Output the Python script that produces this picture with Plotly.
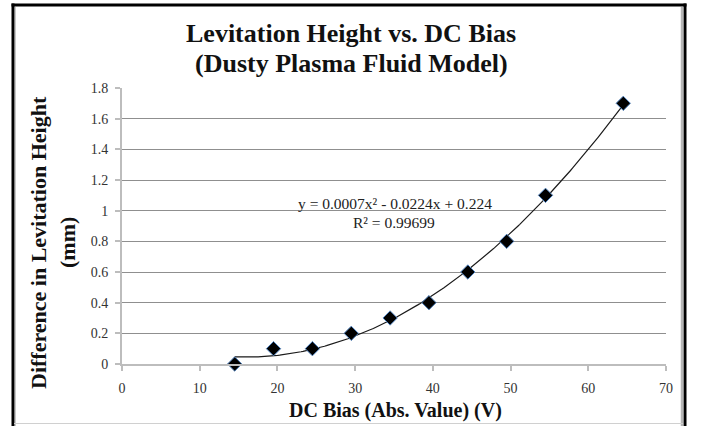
import numpy as np
import plotly.graph_objects as go

dc_bias = [14.5, 19.5, 24.5, 29.5, 34.5, 39.5, 44.5, 49.5, 54.5, 64.5]
height_diff = [0.0, 0.1, 0.1, 0.2, 0.3, 0.4, 0.6, 0.8, 1.1, 1.7]
x_ticks = [0, 10, 20, 30, 40, 50, 60, 70]
y_ticks = [0, 0.2, 0.4, 0.6, 0.8, 1, 1.2, 1.4, 1.6, 1.8]
y_tick_labels = ["0", "0.2", "0.4", "0.6", "0.8", "1", "1.2", "1.4", "1.6", "1.8"]

# Polynomial (order 2) trendline fitted to the data, as in the spreadsheet
coef = np.polyfit(dc_bias, height_diff, 2)
fit_x = np.linspace(min(dc_bias), max(dc_bias), 200)
fit_y = np.polyval(coef, fit_x)

SERIF = "Liberation Serif, Times New Roman, serif"

fig = go.Figure()
fig.add_trace(go.Scatter(x=fit_x, y=fit_y, mode="lines",
                         line=dict(color="#1a1a1a", width=1.2), showlegend=False,
                         hoverinfo="skip"))
fig.add_trace(go.Scatter(x=dc_bias, y=height_diff, mode="markers", cliponaxis=False,
                         marker=dict(symbol="diamond", size=11, color="black",
                                     line=dict(color="#4F81BD", width=1)),
                         showlegend=False))

L, R, T, B = 122, 39, 88, 62
W, H = 705, 426
pw, ph = W - L - R, H - T - B

def px(xp):
    return (xp - L) / pw

def py(yp):
    return (H - B - yp) / ph

fig.update_layout(
    width=W, height=H,
    margin=dict(l=L, r=R, t=T, b=B),
    paper_bgcolor="white", plot_bgcolor="white",
    font=dict(family=SERIF, color="#333333"),
    xaxis=dict(range=[0, 70], tickvals=x_ticks, showgrid=False,
               showline=True, linecolor="#bdbdbd", linewidth=2,
               ticks="outside", ticklen=5, tickcolor="#bdbdbd", tickwidth=1.5,
               ticklabelstandoff=5,
               tickfont=dict(family=SERIF, size=14, color="#333333"),
               zeroline=False, fixedrange=True),
    yaxis=dict(range=[0, 1.8], tickvals=y_ticks, ticktext=y_tick_labels,
               showgrid=True, gridcolor="#8f8f8f", gridwidth=1.2,
               showline=True, linecolor="#bdbdbd", linewidth=2,
               ticks="outside", ticklen=5, tickcolor="#bdbdbd", tickwidth=1.5,
               ticklabelstandoff=4,
               tickfont=dict(family=SERIF, size=14, color="#333333"),
               zeroline=False, fixedrange=True),
)

ann = [
    dict(text="<b>Levitation Height vs. DC Bias</b>", x=px(351), y=py(33),
         font=dict(size=26, color="#111111", family=SERIF)),
    dict(text="<b>(Dusty Plasma Fluid Model)</b>", x=px(351), y=py(63),
         font=dict(size=26, color="#111111", family=SERIF)),
    dict(text="<b>DC Bias (Abs. Value) (V)</b>", x=px(395), y=py(410),
         font=dict(size=20, color="#111111", family=SERIF)),
    dict(text="<b>Difference in Levitation Height</b>", x=px(38), y=py(243),
         textangle=-90, font=dict(size=22, color="#111111", family=SERIF)),
    dict(text="<b>(mm)</b>", x=px(67), y=py(243),
         textangle=-90, font=dict(size=22, color="#111111", family=SERIF)),
    dict(text="y = 0.0007x² - 0.0224x + 0.224", x=px(395), y=py(203),
         font=dict(size=15.5, color="#222222", family=SERIF)),
    dict(text="R² = 0.99699", x=px(394), y=py(222),
         font=dict(size=15.5, color="#222222", family=SERIF)),
]
for a in ann:
    fig.add_annotation(xref="paper", yref="paper", showarrow=False,
                       xanchor="center", yanchor="middle", **a)

# Outer frame
shapes = [
    dict(x0=px(13), x1=px(13), y0=py(3.5), y1=py(426), line=dict(color="black", width=3)),
    dict(x0=px(11.5), x1=px(686.5), y0=py(5), y1=py(5), line=dict(color="black", width=3)),
    dict(x0=px(685), x1=px(685), y0=py(3.5), y1=py(426), line=dict(color="black", width=3)),
    dict(x0=px(682), x1=px(682), y0=py(7), y1=py(426), line=dict(color="#b5b5b5", width=2.5)),
    dict(x0=px(15.5), x1=px(15.5), y0=py(7), y1=py(426), line=dict(color="#c8c8c8", width=1)),
    dict(x0=px(14), x1=px(683), y0=py(423.5), y1=py(423.5), line=dict(color="#d0d0d0", width=1)),
]
for s in shapes:
    fig.add_shape(type="line", xref="paper", yref="paper", layer="above", **s)

fig.write_html("out.html", config={"displayModeBar": False},
               post_script="document.body.style.margin='0';document.body.style.overflow='hidden';")
